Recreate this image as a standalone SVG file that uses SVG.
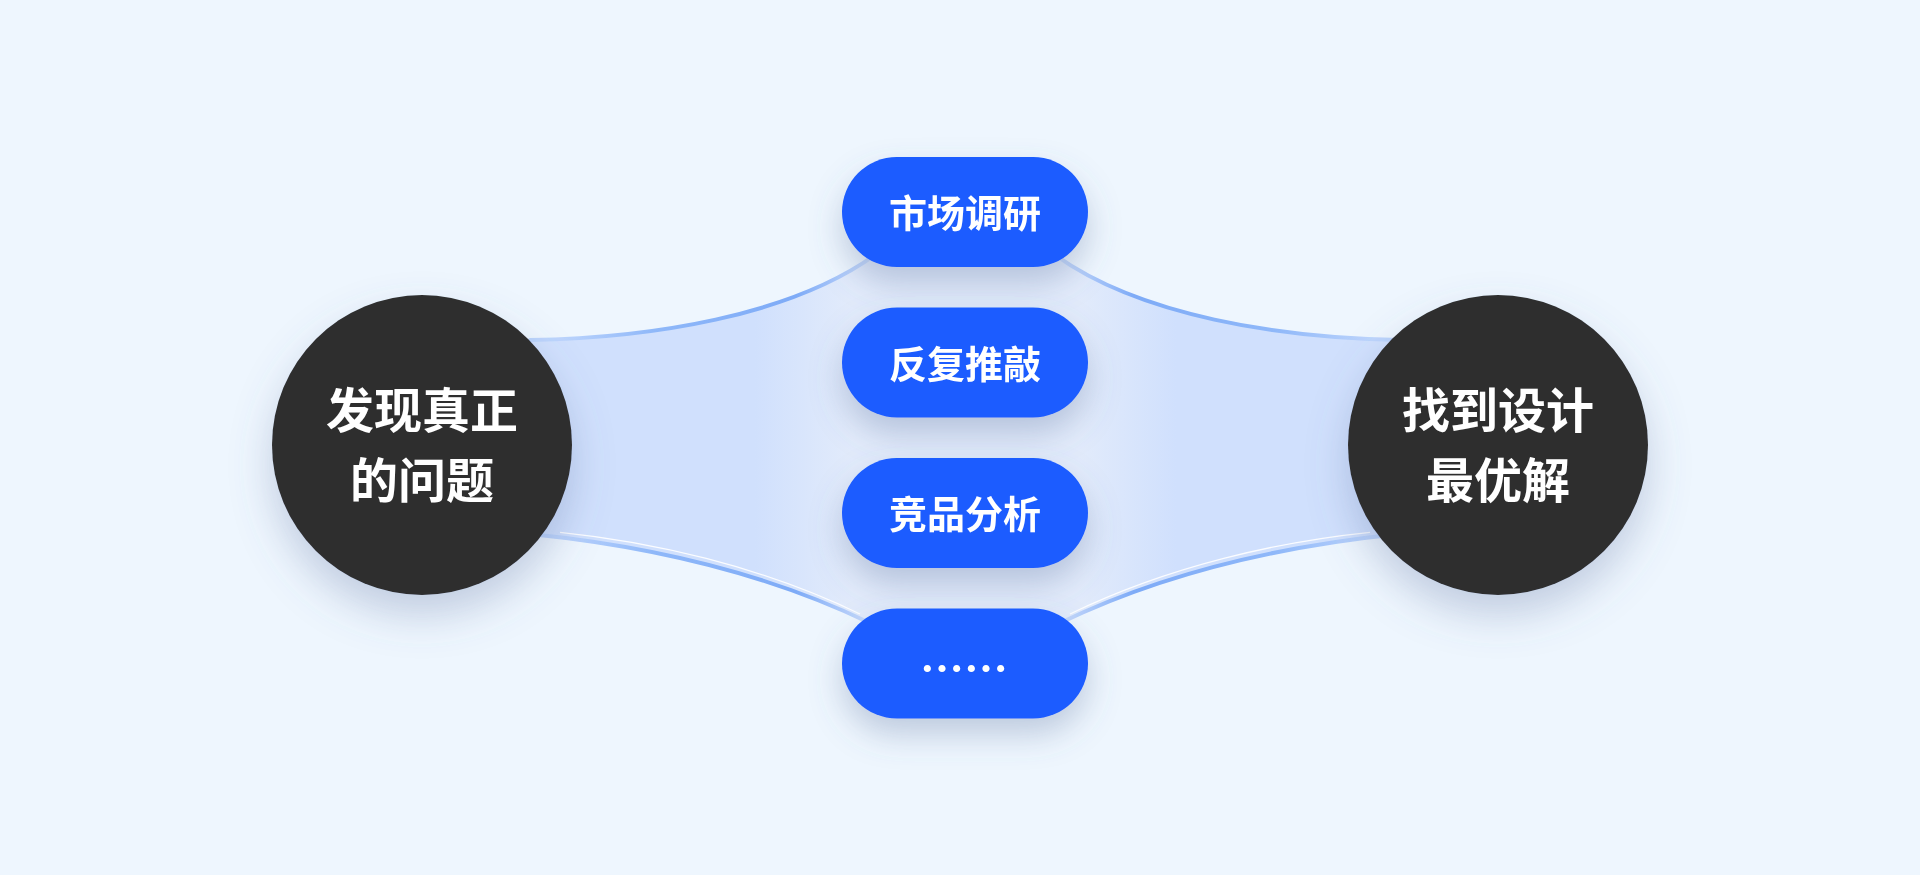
<svg xmlns="http://www.w3.org/2000/svg" width="1920" height="875" viewBox="0 0 1920 875">
<defs>
<style>
.pill{fill:#1a5cff}
.circ{fill:#2f2f2f}
.pt{font-family:"Noto Sans CJK SC","Noto Sans",sans-serif;font-weight:700;font-size:38px;fill:#ffffff;text-anchor:middle}
.dots{font-family:"Noto Sans CJK SC","Noto Sans",sans-serif;font-weight:700;font-size:44px;fill:#ffffff;text-anchor:middle}
.ct{font-family:"Noto Sans CJK SC","Noto Sans",sans-serif;font-weight:700;font-size:48px;fill:#ffffff;text-anchor:middle}
.ln{fill:none;stroke-width:4;stroke-linecap:round}
.hl{fill:none;stroke:#ffffff;stroke-width:1.3;opacity:0.9}
</style>
<filter id="shP" x="-30%" y="-40%" width="160%" height="200%">
<feDropShadow dx="0" dy="16" stdDeviation="16" flood-color="#5a6e9c" flood-opacity="0.32"/>
</filter>
<filter id="shC" x="-30%" y="-30%" width="160%" height="170%">
<feDropShadow dx="0" dy="20" stdDeviation="20" flood-color="#5a6e9c" flood-opacity="0.3"/>
</filter>
<linearGradient id="fillG" gradientUnits="userSpaceOnUse" x1="420" y1="0" x2="1500" y2="0">
<stop offset="0" stop-color="#d0e0fd"/>
<stop offset="0.31" stop-color="#d0e0fd"/>
<stop offset="0.40" stop-color="#e2ebfb"/>
<stop offset="0.61" stop-color="#e2ebfb"/>
<stop offset="0.70" stop-color="#d0e0fd"/>
<stop offset="1" stop-color="#d0e0fd"/>
</linearGradient>
<linearGradient id="lnL" gradientUnits="userSpaceOnUse" x1="560" y1="0" x2="875" y2="0">
<stop offset="0" stop-color="#bcd4fc"/>
<stop offset="0.3" stop-color="#8fb8f9"/>
<stop offset="0.75" stop-color="#7eabf7"/>
<stop offset="1" stop-color="#cfdffb"/>
</linearGradient>
<linearGradient id="lnR" gradientUnits="userSpaceOnUse" x1="1370" y1="0" x2="1055" y2="0">
<stop offset="0" stop-color="#bcd4fc"/>
<stop offset="0.3" stop-color="#8fb8f9"/>
<stop offset="0.75" stop-color="#7eabf7"/>
<stop offset="1" stop-color="#cfdffb"/>
</linearGradient>
</defs>
<rect width="1920" height="875" fill="#eef6fe"/>
<g id="connectors">
<path d="M 530 340 C 650 338, 790 316, 875 255 L 1055 255 C 1140 316, 1280 338, 1400 340 L 1400 534 C 1290 545, 1170 570, 1060 623 L 870 623 C 760 570, 640 545, 530 534 Z" fill="url(#fillG)"/>
<path class="ln" stroke="url(#lnL)" d="M 530 340 C 650 338, 790 316, 875 255"/>
<path class="ln" stroke="url(#lnR)" d="M 1400 340 C 1280 338, 1140 316, 1055 255"/>
<path class="ln" stroke="url(#lnL)" d="M 530 534 C 640 545, 760 570, 870 623"/>
<path class="ln" stroke="url(#lnR)" d="M 1400 534 C 1290 545, 1170 570, 1060 623"/>
<path class="hl" d="M 560 532.3 C 650 541.5, 760 565.5, 860 614"/>
<path class="hl" d="M 1370 532.3 C 1280 541.5, 1170 565.5, 1070 614"/>
</g>
<g id="node-left" filter="url(#shC)">
<circle class="circ" cx="422" cy="445" r="150"/>
<text class="ct" x="422" y="428">发现真正</text>
<text class="ct" x="422" y="498">的问题</text>
</g>
<g id="node-right" filter="url(#shC)">
<circle class="circ" cx="1498" cy="445" r="150"/>
<text class="ct" x="1498" y="428">找到设计</text>
<text class="ct" x="1498" y="498">最优解</text>
</g>
<g id="pill-1" filter="url(#shP)">
<rect class="pill" x="842" y="157" width="246" height="110" rx="55"/>
<text class="pt" x="965" y="227">市场调研</text>
</g>
<g id="pill-2" filter="url(#shP)">
<rect class="pill" x="842" y="307.5" width="246" height="110" rx="55"/>
<text class="pt" x="965" y="377.5">反复推敲</text>
</g>
<g id="pill-3" filter="url(#shP)">
<rect class="pill" x="842" y="458" width="246" height="110" rx="55"/>
<text class="pt" x="965" y="528">竞品分析</text>
</g>
<g id="pill-4" filter="url(#shP)">
<rect class="pill" x="842" y="608.5" width="246" height="110" rx="55"/>
<text class="dots" x="964" y="684.5">……</text>
</g>
</svg>
